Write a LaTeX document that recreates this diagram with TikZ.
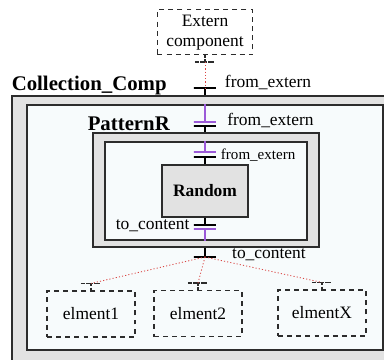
\documentclass[tikz,border=0pt]{standalone}
\usepackage{fontspec}
\setmainfont{Liberation Serif}
\usetikzlibrary{calc}

\definecolor{compgray}{HTML}{E2E2E2}
\definecolor{compin}{HTML}{F7FBFC}
\definecolor{delegc}{HTML}{9B5AD8}
\definecolor{linkc}{HTML}{D94543}
\definecolor{edgec}{HTML}{2C2C2C}

\begin{document}
\begin{tikzpicture}[font=\fontsize{12.4}{14}\selectfont]
        \tikzset{cbox/.style={draw=edgec, rectangle, line width=1.1pt},
                 dbox/.style={draw=edgec, rectangle, line width=0.8pt,
                 dash pattern=on 3.5pt off 3pt, align=center,
                 minimum width=2.2cm, minimum height=1.15cm},
                 portbar/.style={draw=black, line width=1.1pt, inner sep=0pt,
                 minimum width=0.55cm, minimum height=0pt},
                 delegbar/.style={portbar, draw=delegc},
                 dportbar/.style={portbar, draw=edgec, line width=0.8pt,
                 dash pattern=on 3pt off 2.4pt, minimum width=0.5cm},
                 stub/.style={draw=black, line width=1.1pt},
                 deleg/.style={draw=delegc, line width=0.9pt},
                 link/.style={draw=linkc, line width=0.6pt,
                 dash pattern=on 0.8pt off 1.5pt},
                 ttl/.style={font=\fontsize{14.8}{16}\selectfont\bfseries},
                 sml/.style={font=\fontsize{10.7}{12}\selectfont}}
        \clip (0,0) rectangle (9.6,9);
        %% Composant composite et son contenu
        \node[cbox, fill=compgray, minimum width=9.575cm, minimum height=6.85cm] (coll) at (5.0875,3.175) {};
        \node[cbox, fill=compin, minimum width=8.9cm, minimum height=6.125cm] (collin) at (5.125,3.3125) {};
        \node[ttl, anchor=west] (colltt) at (0.17,6.875) {Collection\_Comp};
        \node[cbox, fill=compgray, line width=1.6pt, minimum width=5.65cm, minimum height=2.85cm] (pat) at (5.15,4.25) {};
        \node[cbox, fill=compin, minimum width=5.05cm, minimum height=2.45cm] (patin) at (5.15,4.225) {};
        \node[ttl] (pattt) at (3.22,5.9) {PatternR};
        \node[cbox, fill=compgray, minimum width=2.15cm, minimum height=1.3cm] (rnd) at (5.125,4.225) {\bfseries Random};
        %% Composant externe
        \node[dbox, minimum width=2.375cm, minimum height=1.125cm] (ext) at (5.125,8.19) {Extern\\component};
        \node[dportbar] (eout) at (5.125,7.45) {};
        \draw[edgec, line width=0.8pt, dash pattern=on 2pt off 1pt] (eout.center) -- (ext.south);
        %% Ports d'entree
        \node[portbar] (pin) at (5.125,6.8) {};
        \draw[stub] (pin.center) -- (pin |- coll.north);
        \node[anchor=west] (pinl) at (5.5,6.93) {from\_extern};
        \node[delegbar] (pdin) at (5.125,5.95) {};
        \draw[deleg] (pdin.center) -- (pdin |- collin.north);
        \node[portbar] (ppin) at (5.125,5.85) {};
        \draw[stub] (ppin.center) -- (ppin |- pat.north);
        \node[anchor=west] (ppinl) at (5.56,6.0) {from\_extern};
        \node[delegbar] (rdin) at (5.125,5.2) {};
        \draw[deleg] (rdin.center) -- (rdin |- patin.north);
        \node[portbar] (rin) at (5.125,5.075) {};
        \draw[stub] (rin.center) -- (rin |- rnd.north);
        \node[sml, anchor=west] (rinl) at (5.4,5.12) {from\_extern};
        %% Ports de sortie
        \node[portbar] (rout) at (5.125,3.375) {};
        \draw[stub] (rout.center) -- (rout |- rnd.south);
        \node[delegbar] (rdout) at (5.125,3.275) {};
        \draw[deleg] (rdout.center) -- (rdout |- patin.south);
        \node[anchor=east] (routl) at (4.86,3.36) {to\_content};
        \node[portbar] (pout) at (5.125,2.575) {};
        \draw[stub] (pout.center) -- (pout |- pat.south);
        \node[anchor=west] (poutl) at (5.68,2.63) {to\_content};
        %% Elements du contenu
        \node[dbox] (el1) at (2.275,1.15) {elment1};
        \node[dbox] (el2) at (4.95,1.16) {elment2};
        \node[dbox] (elx) at (8.05,1.175) {elmentX};
        \foreach \e in {el1,el2,elx}{
            \node[dportbar] (\e p) at ($(\e.north)+(0,0.175)$) {};
            \draw[edgec, line width=0.8pt, dash pattern=on 2pt off 1pt] (\e p.center) -- (\e.north);
            \draw[link] (pout.center) -- (\e p.center);
        }
        %% Liaison externe
        \draw[link] (eout.center) -- (pin.center);
    \end{tikzpicture}
\end{document}
